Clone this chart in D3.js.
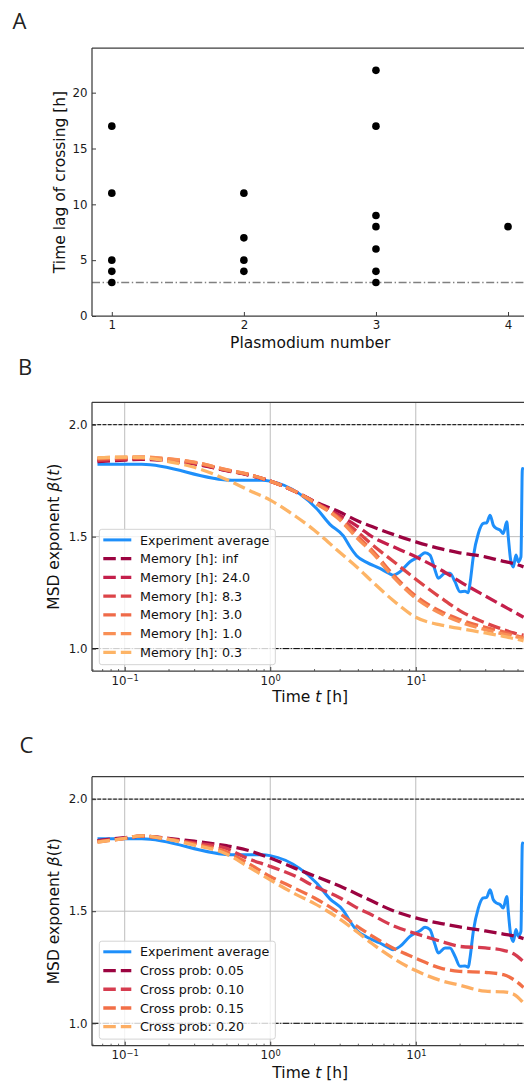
<!DOCTYPE html>
<html><head><meta charset="utf-8">
<script src="https://cdn.jsdelivr.net/npm/d3@7/dist/d3.min.js"></script>
<style>
body{margin:0;background:#fff}
svg{display:block}
text{font-family:"DejaVu Sans",sans-serif}
</style>
</head><body>
<svg id="chart" width="524" height="1084"></svg>
<script>
// ---------------- DATA ----------------
// Panel A
const plasmodiumNumbers = [1,1,1,1,1, 2,2,2,2, 3,3,3,3,3,3,3, 4];
const crossingLags      = [17,11,5,4,3, 11,7,5,4, 22,17,9,8,6,4,3, 8];
const crossingThreshold = 3;
const xTicksA = [1,2,3,4];
const yTicksA = [0,5,10,15,20];

// Experiment average (panels B and C)
const expTimes = [0.065,0.131,0.546,0.88,1.0,1.6,2.08,2.57,3.18,3.53,3.92,4.6,5.67,6.64,6.97,7.79,9.12,10.69,11.57,12.52,13.55,14.28,15.88,17.18,18.59,20.12,21.78,22.96,23.58,24.85,26.9,29.1,30.7,32.4,34.1,36.0,37.9,39.9,42.2,43.2,44.9,46.8,48.8,50.6,52.8,54.0,55.5];
const expBeta  = [1.823,1.823,1.752,1.752,1.748,1.69,1.626,1.555,1.503,1.455,1.415,1.385,1.358,1.334,1.328,1.343,1.388,1.413,1.428,1.418,1.351,1.314,1.336,1.336,1.299,1.254,1.256,1.25,1.291,1.41,1.514,1.559,1.562,1.596,1.551,1.536,1.530,1.514,1.566,1.499,1.395,1.365,1.418,1.388,1.410,1.804,1.80];

// Simulation time grid
const simTimes = [0.065,0.1,0.13,0.2,0.3,0.5,0.7,1,1.5,2,3,4,5,7,10,15,20,30,40,47,55];

// Panel B: memory model
const memoryLabels = ["inf","24.0","8.3","3.0","1.0","0.3"];
const memInf  = [1.835,1.842,1.845,1.838,1.825,1.795,1.776,1.748,1.70,1.658,1.61,1.57,1.545,1.51,1.477,1.445,1.428,1.41,1.39,1.38,1.365];
const mem24   = [1.838,1.845,1.848,1.840,1.827,1.796,1.777,1.748,1.70,1.656,1.595,1.545,1.50,1.455,1.41,1.35,1.30,1.235,1.19,1.165,1.14];
const mem8_3  = [1.842,1.848,1.851,1.843,1.829,1.797,1.778,1.748,1.70,1.655,1.585,1.52,1.465,1.39,1.31,1.225,1.17,1.115,1.085,1.07,1.06];
const mem3_0  = [1.848,1.852,1.854,1.846,1.832,1.798,1.779,1.748,1.70,1.655,1.58,1.50,1.44,1.33,1.235,1.165,1.13,1.095,1.075,1.06,1.05];
const mem1_0  = [1.852,1.855,1.856,1.848,1.833,1.799,1.779,1.748,1.70,1.653,1.575,1.49,1.43,1.32,1.225,1.155,1.12,1.085,1.065,1.055,1.045];
const mem0_3  = [1.852,1.855,1.853,1.835,1.81,1.755,1.71,1.663,1.59,1.53,1.43,1.36,1.30,1.215,1.14,1.105,1.09,1.07,1.055,1.045,1.035];

// Panel C: crossing probability model
const crossLabels = ["0.05","0.10","0.15","0.20"];
const cross005 = [1.815,1.828,1.835,1.825,1.812,1.792,1.772,1.737,1.69,1.658,1.612,1.575,1.545,1.502,1.47,1.445,1.43,1.412,1.398,1.39,1.378];
const cross010 = [1.812,1.825,1.835,1.822,1.805,1.78,1.735,1.70,1.655,1.612,1.56,1.513,1.483,1.435,1.40,1.365,1.343,1.336,1.325,1.31,1.275];
const cross015 = [1.808,1.825,1.836,1.822,1.80,1.765,1.715,1.655,1.60,1.56,1.49,1.43,1.39,1.335,1.29,1.245,1.232,1.227,1.217,1.195,1.16];
const cross020 = [1.808,1.825,1.836,1.82,1.795,1.755,1.70,1.64,1.575,1.535,1.465,1.405,1.356,1.29,1.235,1.19,1.17,1.143,1.14,1.13,1.09];

// Axis ticks for log panels
const logMajorTicks = [0.1, 1, 10];
const logMajorExponents = ["\u22121", "0", "1"];
const betaTicks = [1.0, 1.5, 2.0];

// ---------------- STYLE ----------------
const memoryColors = ["#9b0340","#c41f4b","#dc4448","#ef6a48","#f98f55","#fdb466"];
const crossColors  = ["#9b0340","#d63c4f","#f26f47","#fdae63"];
const expColor = "#1e8ffa";
const spineColor = "#3c3c3c";
const gridColor = "#bdbdbd";
const tickFont = 11.8, labelFont = 15.5, legendFont = 12.7;
const X0 = 92, X1 = 528.5;

const svg = d3.select("#chart");

function panelLetter(txt, x, y){
  svg.append("text").attr("x",x).attr("y",y).text(txt)
    .style("font-family","'Open Sans',sans-serif").style("font-size","22px").attr("fill","#222");
}
function spines(g, x0, x1, y0, y1){
  g.append("line").attr("x1",x0).attr("x2",x1).attr("y1",y0).attr("y2",y0).attr("stroke",spineColor).attr("stroke-width",1.25);
  g.append("line").attr("x1",x0).attr("x2",x1).attr("y1",y1).attr("y2",y1).attr("stroke",spineColor).attr("stroke-width",1.25);
  g.append("line").attr("x1",x0).attr("x2",x0).attr("y1",y0).attr("y2",y1).attr("stroke",spineColor).attr("stroke-width",1.25);
}
function styleAxis(sel){
  sel.select(".domain").remove();
  sel.selectAll(".tick line").attr("stroke",spineColor).attr("stroke-width",1);
  sel.selectAll(".tick text").style("font-size",tickFont+"px").attr("fill","#1a1a1a").style("font-family","'DejaVu Sans',sans-serif");
}

// ---------------- PANEL A ----------------
panelLetter("A", 12.5, 28.5);
{
  const top = 48, bottom = 316;
  const x = d3.scaleLinear().domain([0.85, 4.155]).range([X0, X1]);
  const y = d3.scaleLinear().domain([0, 24]).range([bottom, top]);
  const g = svg.append("g");
  g.append("line").attr("x1",X0).attr("x2",X1).attr("y1",y(crossingThreshold)).attr("y2",y(crossingThreshold))
    .attr("stroke","#808080").attr("stroke-width",1.3).attr("stroke-dasharray","8,2.6,1.4,2.6");
  g.selectAll("circle").data(plasmodiumNumbers).join("circle")
    .attr("cx",(d)=>x(d)).attr("cy",(d,i)=>y(crossingLags[i])).attr("r",3.8).attr("fill","#000");
  const ax = g.append("g").attr("transform",`translate(0,${bottom})`)
    .call(d3.axisBottom(x).tickValues(xTicksA).tickSize(-4).tickPadding(5).tickFormat(d3.format("d")));
  styleAxis(ax);
  const ay = g.append("g").attr("transform",`translate(${X0},0)`)
    .call(d3.axisLeft(y).tickValues(yTicksA).tickSize(-4).tickPadding(4.5).tickFormat(d3.format("d")));
  styleAxis(ay);
  spines(g, X0, X1, top, bottom);
  g.append("text").attr("x",(X0+X1)/2).attr("y",348).attr("text-anchor","middle")
    .style("font-size",labelFont+"px").attr("fill","#111").text("Plasmodium number");
  g.append("text").attr("transform",`translate(64.5,${(top+bottom)/2}) rotate(-90)`).attr("text-anchor","middle")
    .style("font-size",labelFont+"px").attr("fill","#111").text("Time lag of crossing [h]");
}

// ---------------- LOG PANELS ----------------
function logPanel(opts){
  const {top, bottom, series, labels, colors, prefix, legendTop, letter, letterX, letterY, xLabelY, id} = opts;
  panelLetter(letter, letterX, letterY);
  const x = d3.scaleLog().domain([0.0596, 59.5]).range([X0, X1]);
  const y = d3.scaleLinear().domain([0.9, 2.1]).range([bottom, top]);
  const g = svg.append("g");
  g.append("clipPath").attr("id","clip"+id).append("rect").attr("x",X0).attr("y",top).attr("width",X1-X0).attr("height",bottom-top);
  const plot = g.append("g").attr("clip-path",`url(#clip${id})`);
  // grid
  plot.selectAll(".vg").data(logMajorTicks).join("line")
    .attr("x1",d=>x(d)).attr("x2",d=>x(d)).attr("y1",top).attr("y2",bottom).attr("stroke",gridColor).attr("stroke-width",1);
  plot.selectAll(".hg").data(betaTicks).join("line")
    .attr("x1",X0).attr("x2",X1).attr("y1",d=>y(d)).attr("y2",d=>y(d)).attr("stroke",gridColor).attr("stroke-width",1);
  // reference lines
  plot.append("line").attr("x1",X0).attr("x2",X1).attr("y1",y(2)).attr("y2",y(2))
    .attr("stroke","#000").attr("stroke-width",1).attr("stroke-dasharray","3.7,1.6");
  plot.append("line").attr("x1",X0).attr("x2",X1).attr("y1",y(1)).attr("y2",y(1))
    .attr("stroke","#000").attr("stroke-width",1).attr("stroke-dasharray","6.4,1.6,1,1.6");
  const line = d3.line().curve(d3.curveMonotoneX);
  // experiment
  plot.append("path").attr("d", line(expTimes.map((t,i)=>[x(t), y(expBeta[i])])))
    .attr("fill","none").attr("stroke",expColor).attr("stroke-width",3).attr("stroke-linejoin","round");
  series.forEach((s,k)=>{
    plot.append("path").attr("d", line(simTimes.map((t,i)=>[x(t), y(s[i])])))
      .attr("fill","none").attr("stroke",colors[k]).attr("stroke-width",3.3).attr("stroke-dasharray","12.5,5");
  });
  // axes
  const minor = [];
  [0.01,0.1,1,10].forEach(b=>{ for(let m=2;m<=9;m++){ const v=b*m; if(v>=0.0596 && v<=59.5) minor.push(v);} });
  const axm = g.append("g").attr("transform",`translate(0,${bottom})`)
    .call(d3.axisBottom(x).tickValues(minor).tickSize(-2).tickFormat(""));
  styleAxis(axm);
  axm.selectAll(".tick line").attr("stroke-width",0.8);
  const ax = g.append("g").attr("transform",`translate(0,${bottom})`)
    .call(d3.axisBottom(x).tickValues(logMajorTicks).tickSize(-4).tickPadding(5.4).tickFormat(""));
  styleAxis(ax);
  ax.selectAll(".tick text").each(function(d,i){
    const t = d3.select(this);
    t.text(null).attr("dy","0.71em");
    t.append("tspan").text("10");
    t.append("tspan").attr("dy","-0.45em").style("font-size","8.3px").text(logMajorExponents[i]);
  });
  const ay = g.append("g").attr("transform",`translate(${X0},0)`)
    .call(d3.axisLeft(y).tickValues(betaTicks).tickSize(-4).tickPadding(4.5).tickFormat(d3.format(".1f")));
  styleAxis(ay);
  spines(g, X0, X1, top, bottom);
  // labels
  const xl = g.append("text").attr("x",(X0+X1)/2).attr("y",xLabelY).attr("text-anchor","middle")
    .style("font-size",labelFont+"px").attr("fill","#111");
  xl.append("tspan").text("Time ");
  xl.append("tspan").style("font-style","italic").text("t");
  xl.append("tspan").text(" [h]");
  const yl = g.append("text").attr("transform",`translate(59,${(top+bottom)/2}) rotate(-90)`).attr("text-anchor","middle")
    .style("font-size",labelFont+"px").attr("fill","#111");
  yl.append("tspan").text("MSD exponent ");
  yl.append("tspan").style("font-style","italic").text("\u03b2");
  yl.append("tspan").text("(");
  yl.append("tspan").style("font-style","italic").text("t");
  yl.append("tspan").text(")");
  // legend
  const n = labels.length + 1, rowH = 18.73;
  const lg = g.append("g");
  lg.append("rect").attr("x",99.3).attr("y",legendTop).attr("width",176).attr("height",10.6 + (n-1)*rowH + 12.4)
    .attr("rx",2.5).attr("fill","#fff").attr("fill-opacity",0.8).attr("stroke","#d4d4d4").attr("stroke-width",1);
  const entries = [{label:"Experiment average", color:expColor, dash:null}]
    .concat(labels.map((l,k)=>({label:prefix+l, color:colors[k], dash:"12.5,5"})));
  entries.forEach((e,k)=>{
    const cy = legendTop + 10.6 + k*rowH;
    lg.append("line").attr("x1",103.3).attr("x2",131.3).attr("y1",cy).attr("y2",cy)
      .attr("stroke",e.color).attr("stroke-width",e.dash?3.3:3).attr("stroke-dasharray",e.dash);
    lg.append("text").attr("x",140).attr("y",cy+4.6).style("font-size",legendFont+"px").attr("fill","#111").text(e.label);
  });
}

logPanel({id:"B", top:402.3, bottom:671, series:[memInf,mem24,mem8_3,mem3_0,mem1_0,mem0_3], labels:memoryLabels,
  colors:memoryColors, prefix:"Memory [h]: ", legendTop:529.3, letter:"B", letterX:18, letterY:374.5, xLabelY:701.5});
logPanel({id:"C", top:776.7, bottom:1045.7, series:[cross005,cross010,cross015,cross020], labels:crossLabels,
  colors:crossColors, prefix:"Cross prob: ", legendTop:941.2, letter:"C", letterX:19.5, letterY:753, xLabelY:1077.5});
</script>
</body></html>
